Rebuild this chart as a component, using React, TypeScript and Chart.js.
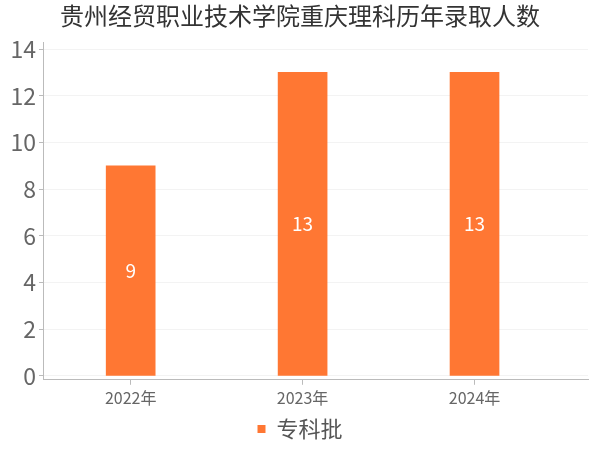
import React, { useEffect, useRef } from 'react';
import { Chart, registerables } from 'chart.js';

Chart.register(...registerables);

const chartTitle = '贵州经贸职业技术学院重庆理科历年录取人数';
const categories = ['2022年', '2023年', '2024年'];
const seriesName = '专科批';
const values = [9, 13, 13];
const yTicks = [0, 2, 4, 6, 8, 10, 12, 14];

const FONT = '"Noto Sans CJK SC", "Noto Sans", sans-serif';

// white value labels in the middle of each bar
const barLabels = {
  id: 'barLabels',
  afterDatasetsDraw(chart: any) {
    const { ctx } = chart;
    const meta = chart.getDatasetMeta(0);
    ctx.save();
    ctx.fillStyle = '#ffffff';
    ctx.font = `19px ${FONT}`;
    ctx.textAlign = 'center';
    ctx.textBaseline = 'middle';
    meta.data.forEach((bar: any, i: number) => {
      const { x, y, base } = bar.getProps(['x', 'y', 'base'], true);
      ctx.fillText(String(values[i]), x, (y + base) / 2);
    });
    ctx.restore();
  },
};

export default function App() {
  const canvasRef = useRef<HTMLCanvasElement | null>(null);

  useEffect(() => {
    const canvas = canvasRef.current;
    if (!canvas) return;

    const chart = new Chart(canvas, {
      type: 'bar',
      data: {
        datasets: [
          {
            label: seriesName,
            data: values.map((v, i) => ({ x: i, y: v })),
            backgroundColor: '#ff7733',
            borderWidth: 0,
            barThickness: 49,
          },
        ],
      },
      options: {
        animation: false,
        responsive: false,
        layout: { padding: { left: 0, right: 0, top: 0, bottom: 0 } },
        plugins: {
          title: {
            display: true,
            text: chartTitle,
            color: '#333',
            font: { family: FONT, size: 24, weight: 'normal' },
            padding: { top: 1, bottom: 13 },
          },
          legend: {
            position: 'bottom',
            labels: {
              boxWidth: 8,
              boxHeight: 8,
              padding: 6,
              color: '#555',
              font: { family: FONT, size: 22 },
            },
          },
          tooltip: { enabled: false },
        },
        scales: {
          x: {
            type: 'linear',
            offset: false,
            min: -0.51,
            max: 2.66,
            afterBuildTicks: (s: any) => {
              s.ticks = categories.map((_, i) => ({ value: i }));
            },
            ticks: {
              callback: (v: any) => categories[v] ?? '',
              color: '#666',
              font: { family: FONT, size: 16 },
              padding: 4,
              maxRotation: 0,
              autoSkip: false,
            },
            grid: { offset: false, drawOnChartArea: false, tickLength: 5, tickColor: '#bbb' },
            border: { color: '#bbb' },
          },
          y: {
            min: -0.17,
            max: 14.27,
            afterBuildTicks: (s: any) => {
              s.ticks = yTicks.map((v) => ({ value: v }));
            },
            afterFit: (s: any) => {
              s.width = 43;
            },
            ticks: {
              color: '#666',
              font: { family: FONT, size: 23 },
              padding: 3,
            },
            grid: { color: '#f3f3f3', tickLength: 4, tickColor: '#bbb' },
            border: { color: '#bbb' },
          },
          // empty strip on the right so title and legend stay centred on the canvas
          spacer: {
            type: 'linear',
            position: 'right',
            afterFit: (s: any) => {
              s.width = 12;
            },
            ticks: { display: false },
            grid: { display: false },
            border: { display: false },
          },
        },
      },
      plugins: [barLabels],
    });

    return () => {
      chart.destroy();
    };
  }, []);

  return (
    <div style={{ position: 'fixed', left: 0, top: 0, width: 600, height: 450, background: '#fff' }}>
      <canvas ref={canvasRef} width={600} height={450} />
    </div>
  );
}
